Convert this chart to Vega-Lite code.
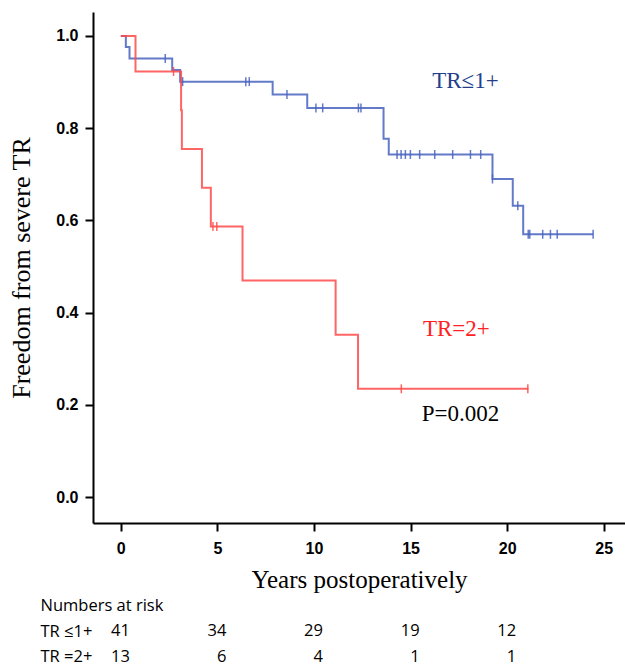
{
  "$schema": "https://vega.github.io/schema/vega-lite/v6.json",
  "background": "white",
  "padding": {"left": 8, "top": 12, "right": 0, "bottom": 0},
  "config": {
    "view": {"stroke": null},
    "axis": {
      "domainColor": "black", "domainWidth": 2, "tickColor": "black", "tickWidth": 2, "tickSize": 8,
      "labelFont": "Liberation Sans", "labelFontSize": 16, "labelFontWeight": "bold", "labelColor": "black",
      "titleFont": "Liberation Serif", "titleFontSize": 25, "titleFontWeight": "normal", "titleColor": "black",
      "grid": false
    }
  },
  "datasets": {
    "km": [
      {"group": "TR≤1+", "t": 0, "s": 1.0},
      {"group": "TR≤1+", "t": 0.26, "s": 0.976},
      {"group": "TR≤1+", "t": 0.45, "s": 0.951},
      {"group": "TR≤1+", "t": 2.66, "s": 0.926},
      {"group": "TR≤1+", "t": 3.07, "s": 0.901},
      {"group": "TR≤1+", "t": 7.86, "s": 0.873},
      {"group": "TR≤1+", "t": 9.65, "s": 0.844},
      {"group": "TR≤1+", "t": 13.6, "s": 0.777},
      {"group": "TR≤1+", "t": 13.87, "s": 0.743},
      {"group": "TR≤1+", "t": 19.24, "s": 0.69},
      {"group": "TR≤1+", "t": 20.29, "s": 0.632},
      {"group": "TR≤1+", "t": 20.83, "s": 0.57},
      {"group": "TR≤1+", "t": 24.45, "s": 0.57},
      {"group": "TR=2+", "t": 0, "s": 1.0},
      {"group": "TR=2+", "t": 0.76, "s": 0.923},
      {"group": "TR=2+", "t": 3.12, "s": 0.839},
      {"group": "TR=2+", "t": 3.16, "s": 0.755},
      {"group": "TR=2+", "t": 4.2, "s": 0.671},
      {"group": "TR=2+", "t": 4.66, "s": 0.587},
      {"group": "TR=2+", "t": 6.3, "s": 0.47},
      {"group": "TR=2+", "t": 11.12, "s": 0.352},
      {"group": "TR=2+", "t": 12.28, "s": 0.235},
      {"group": "TR=2+", "t": 21.1, "s": 0.235}
    ],
    "censor": [
      {"group": "TR≤1+", "t": 2.3, "s": 0.951},
      {"group": "TR≤1+", "t": 3.2, "s": 0.901},
      {"group": "TR≤1+", "t": 6.47, "s": 0.901},
      {"group": "TR≤1+", "t": 6.65, "s": 0.901},
      {"group": "TR≤1+", "t": 8.6, "s": 0.873},
      {"group": "TR≤1+", "t": 10.1, "s": 0.844},
      {"group": "TR≤1+", "t": 10.45, "s": 0.844},
      {"group": "TR≤1+", "t": 12.3, "s": 0.844},
      {"group": "TR≤1+", "t": 12.43, "s": 0.844},
      {"group": "TR≤1+", "t": 14.3, "s": 0.743},
      {"group": "TR≤1+", "t": 14.51, "s": 0.743},
      {"group": "TR≤1+", "t": 14.73, "s": 0.743},
      {"group": "TR≤1+", "t": 14.99, "s": 0.743},
      {"group": "TR≤1+", "t": 15.47, "s": 0.743},
      {"group": "TR≤1+", "t": 16.25, "s": 0.743},
      {"group": "TR≤1+", "t": 17.18, "s": 0.743},
      {"group": "TR≤1+", "t": 18.1, "s": 0.743},
      {"group": "TR≤1+", "t": 18.63, "s": 0.743},
      {"group": "TR≤1+", "t": 19.24, "s": 0.69},
      {"group": "TR≤1+", "t": 20.55, "s": 0.632},
      {"group": "TR≤1+", "t": 21.09, "s": 0.57},
      {"group": "TR≤1+", "t": 21.17, "s": 0.57},
      {"group": "TR≤1+", "t": 21.84, "s": 0.57},
      {"group": "TR≤1+", "t": 22.24, "s": 0.57},
      {"group": "TR≤1+", "t": 22.59, "s": 0.57},
      {"group": "TR≤1+", "t": 24.45, "s": 0.57},
      {"group": "TR=2+", "t": 2.73, "s": 0.923},
      {"group": "TR=2+", "t": 4.77, "s": 0.587},
      {"group": "TR=2+", "t": 4.97, "s": 0.587},
      {"group": "TR=2+", "t": 14.52, "s": 0.235},
      {"group": "TR=2+", "t": 21.07, "s": 0.235}
    ],
    "labels": [
      {"label": "TR≤1+", "t": 17.84, "s": 0.902, "group": "label blue"},
      {"label": "TR=2+", "t": 17.37, "s": 0.364, "group": "label red"},
      {"label": "P=0.002", "t": 17.58, "s": 0.18, "group": "label black"}
    ],
    "risk": [
      {"row": "TR ≤1+", "t": 0, "n": 41},
      {"row": "TR ≤1+", "t": 5, "n": 34},
      {"row": "TR ≤1+", "t": 10, "n": 29},
      {"row": "TR ≤1+", "t": 15, "n": 19},
      {"row": "TR ≤1+", "t": 20, "n": 12},
      {"row": "TR =2+", "t": 0, "n": 13},
      {"row": "TR =2+", "t": 5, "n": 6},
      {"row": "TR =2+", "t": 10, "n": 4},
      {"row": "TR =2+", "t": 15, "n": 1},
      {"row": "TR =2+", "t": 20, "n": 1}
    ]
  },
  "spacing": 1,
  "vconcat": [
    {
      "width": 532,
      "height": 511,
      "encoding": {
        "x": {"field": "t", "type": "quantitative", "scale": {"domain": [-1.44, 26.1], "nice": false, "zero": false},
              "axis": {"title": "Years postoperatively", "values": [0, 5, 10, 15, 20, 25], "labelPadding": 9, "titlePadding": 11}},
        "y": {"field": "s", "type": "quantitative", "scale": {"domain": [-0.056, 1.052], "nice": false, "zero": false},
              "axis": {"title": "Freedom from severe TR", "titleFontSize": 26, "values": [0, 0.2, 0.4, 0.6, 0.8, 1.0], "format": ".1f", "labelPadding": 7, "titlePadding": 21}},
        "color": {"field": "group", "type": "nominal",
                  "scale": {"domain": ["TR≤1+", "TR=2+", "label blue", "label red", "label black"], "range": ["#4863bf", "#ff4a4a", "#233f8c", "#ff2222", "#000000"]},
                  "legend": null}
      },
      "layer": [
        {
          "data": {"name": "km"},
          "mark": {"type": "line", "interpolate": "step-after", "strokeWidth": 2, "opacity": 0.85}
        },
        {
          "data": {"name": "censor"},
          "mark": {"type": "tick", "orient": "vertical", "size": 9, "thickness": 1.5, "opacity": 0.85}
        },
        {
          "data": {"name": "labels"},
          "mark": {"type": "text", "font": "Liberation Serif", "fontSize": 23, "align": "center", "baseline": "middle"},
          "encoding": {"text": {"field": "label"}}
        }
      ]
    },
    {
      "width": 532,
      "height": 76.5,
      "data": {"name": "risk"},
      "mark": {"type": "text", "font": "Open Sans", "fontSize": 16.5, "align": "right", "baseline": "middle", "dx": 9, "color": "black"},
      "encoding": {
        "x": {"field": "t", "type": "quantitative", "scale": {"domain": [-1.44, 26.1], "nice": false, "zero": false}, "axis": null},
        "y": {"field": "row", "type": "nominal", "scale": {"domain": ["Numbers at risk", "TR ≤1+", "TR =2+"], "paddingInner": 0, "paddingOuter": 0},
              "axis": {"title": null, "domain": false, "ticks": false, "labelAlign": "left", "labelPadding": 53, "labelFont": "Open Sans", "labelFontSize": 16.5, "labelFontWeight": "normal"}},
        "text": {"field": "n", "type": "quantitative"}
      }
    }
  ]
}
